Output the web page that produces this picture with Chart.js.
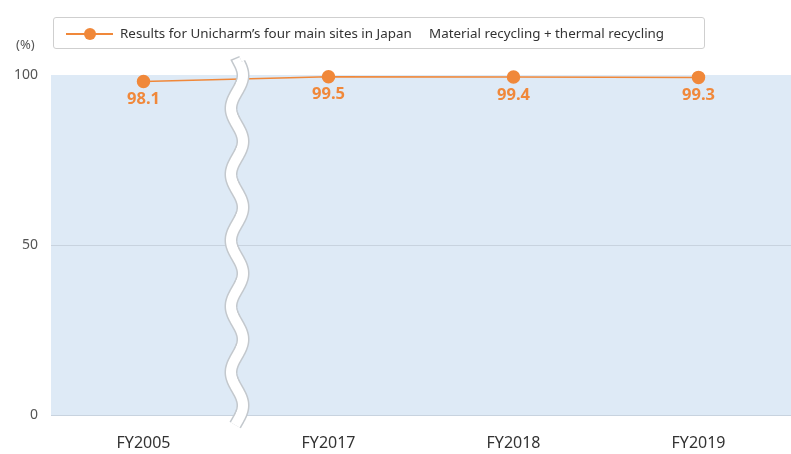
<!DOCTYPE html>
<html>
<head>
<meta charset="utf-8">
<script src="https://cdn.jsdelivr.net/npm/chart.js@4/dist/chart.umd.min.js"></script>
<style>
  html, body { margin: 0; padding: 0; background: #fff; }
  #wrap { position: relative; width: 791px; height: 454px; overflow: hidden; }
  #chart { position: absolute; left: 0; top: 0; }
  .legend {
    position: absolute; left: 53px; top: 17px; width: 652px; height: 32px;
    border: 1px solid #cfcfcf; border-radius: 3px; background: #fff;
    font-family: "Noto Sans", sans-serif; font-size: 13.4px; color: #333;
    box-sizing: border-box;
  }
  .legend .mk { position: absolute; left: 12px; top: 15px; width: 47px; height: 2px; background: #f0883a; }
  .legend .mk::after { content: ""; position: absolute; left: 18px; top: -5px; width: 12px; height: 12px; border-radius: 50%; background: #f0883a; }
  .legend .t1 { position: absolute; left: 66px; top: 6px; white-space: nowrap; }
  .legend .t2 { position: absolute; left: 375px; top: 6px; white-space: nowrap; }
  .unit { position: absolute; left: 16px; top: 35px; font-family: "Noto Sans", sans-serif; font-size: 13px; color: #555; }
</style>
</head>
<body>
<div id="wrap">
  <canvas id="chart" width="791" height="454"></canvas>
  <div class="unit">(%)</div>
  <div class="legend">
    <div class="mk"></div>
    <span class="t1">Results for Unicharm’s four main sites in Japan</span>
    <span class="t2">Material recycling + thermal recycling</span>
  </div>
</div>
<script>
// Fiscal years and recycling rate (%)
const categories = ["FY2005", "FY2017", "FY2018", "FY2019"];
const recyclingRate = [98.1, 99.5, 99.4, 99.3];
const yTicks = [0, 50, 100];

const ORANGE = "#f0883a";

// Light blue plot background
const plotBackground = {
  id: "plotBackground",
  beforeDraw(chart) {
    const { ctx, chartArea: a } = chart;
    ctx.save();
    ctx.fillStyle = "#deeaf6";
    ctx.fillRect(a.left, a.top, a.right - a.left, a.bottom - a.top);
    ctx.restore();
  }
};

// Value labels under each point
const valueLabels = {
  id: "valueLabels",
  afterDatasetsDraw(chart) {
    const { ctx } = chart;
    const meta = chart.getDatasetMeta(0);
    ctx.save();
    ctx.font = "bold 16.5px 'Noto Sans', sans-serif";
    ctx.fillStyle = ORANGE;
    ctx.textAlign = "center";
    ctx.textBaseline = "middle";
    meta.data.forEach((pt, i) => {
      ctx.fillText(recyclingRate[i].toFixed(1), pt.x, pt.y + 18);
    });
    ctx.restore();
  }
};

// Wavy axis break between FY2005 and FY2017
const axisBreak = {
  id: "axisBreak",
  afterDatasetsDraw(chart) {
    const { ctx, scales: { x } } = chart;
    const cx = (x.getPixelForValue(0) + x.getPixelForValue(1)) / 2 + 1;
    const y0 = chart.chartArea.top - 13, y1 = chart.chartArea.bottom + 10;
    const amp = 6, period = 66;
    const path = () => {
      ctx.beginPath();
      for (let y = y0; y <= y1; y += 1) {
        const xx = cx + amp * Math.sin((y - y0) / period * 2 * Math.PI + 0.3);
        if (y === y0) ctx.moveTo(xx + 3, y); else ctx.lineTo(xx, y);
      }
    };
    ctx.save();
    ctx.lineCap = "butt";
    path(); ctx.strokeStyle = "#c3c8cd"; ctx.lineWidth = 13; ctx.stroke();
    path(); ctx.strokeStyle = "#ffffff"; ctx.lineWidth = 10; ctx.stroke();
    ctx.restore();
  }
};

new Chart(document.getElementById("chart"), {
  type: "line",
  data: {
    labels: categories,
    datasets: [{
      data: recyclingRate,
      borderColor: ORANGE,
      backgroundColor: ORANGE,
      borderWidth: 1.5,
      pointRadius: 6,
      pointHoverRadius: 6,
      tension: 0,
      clip: false
    }]
  },
  options: {
    responsive: false,
    animation: false,
    layout: { autoPadding: false, padding: { top: 75, right: -4, bottom: 0, left: 0 } },
    plugins: { legend: { display: false }, tooltip: { enabled: false } },
    scales: {
      x: {
        offset: true,
        grid: { display: false },
        border: { display: false },
        afterFit(scale) { scale.height = 39; },
        ticks: { color: "#333", font: { family: "'Noto Sans', sans-serif", size: 16 }, padding: 11 }
      },
      y: {
        min: 0, max: 100,
        afterBuildTicks(scale) { scale.ticks = yTicks.map(v => ({ value: v })); },
        afterFit(scale) { scale.width = 51; },
        grid: {
          color: ctx => ctx.tick && ctx.tick.value === 100 ? "rgba(0,0,0,0)" : "#c8d3df",
          drawTicks: false
        },
        border: { display: false },
        ticks: { color: "#555", font: { family: "'Noto Sans', sans-serif", size: 14 }, padding: 13 }
      }
    }
  },
  plugins: [plotBackground, valueLabels, axisBreak]
});
</script>
</body>
</html>
